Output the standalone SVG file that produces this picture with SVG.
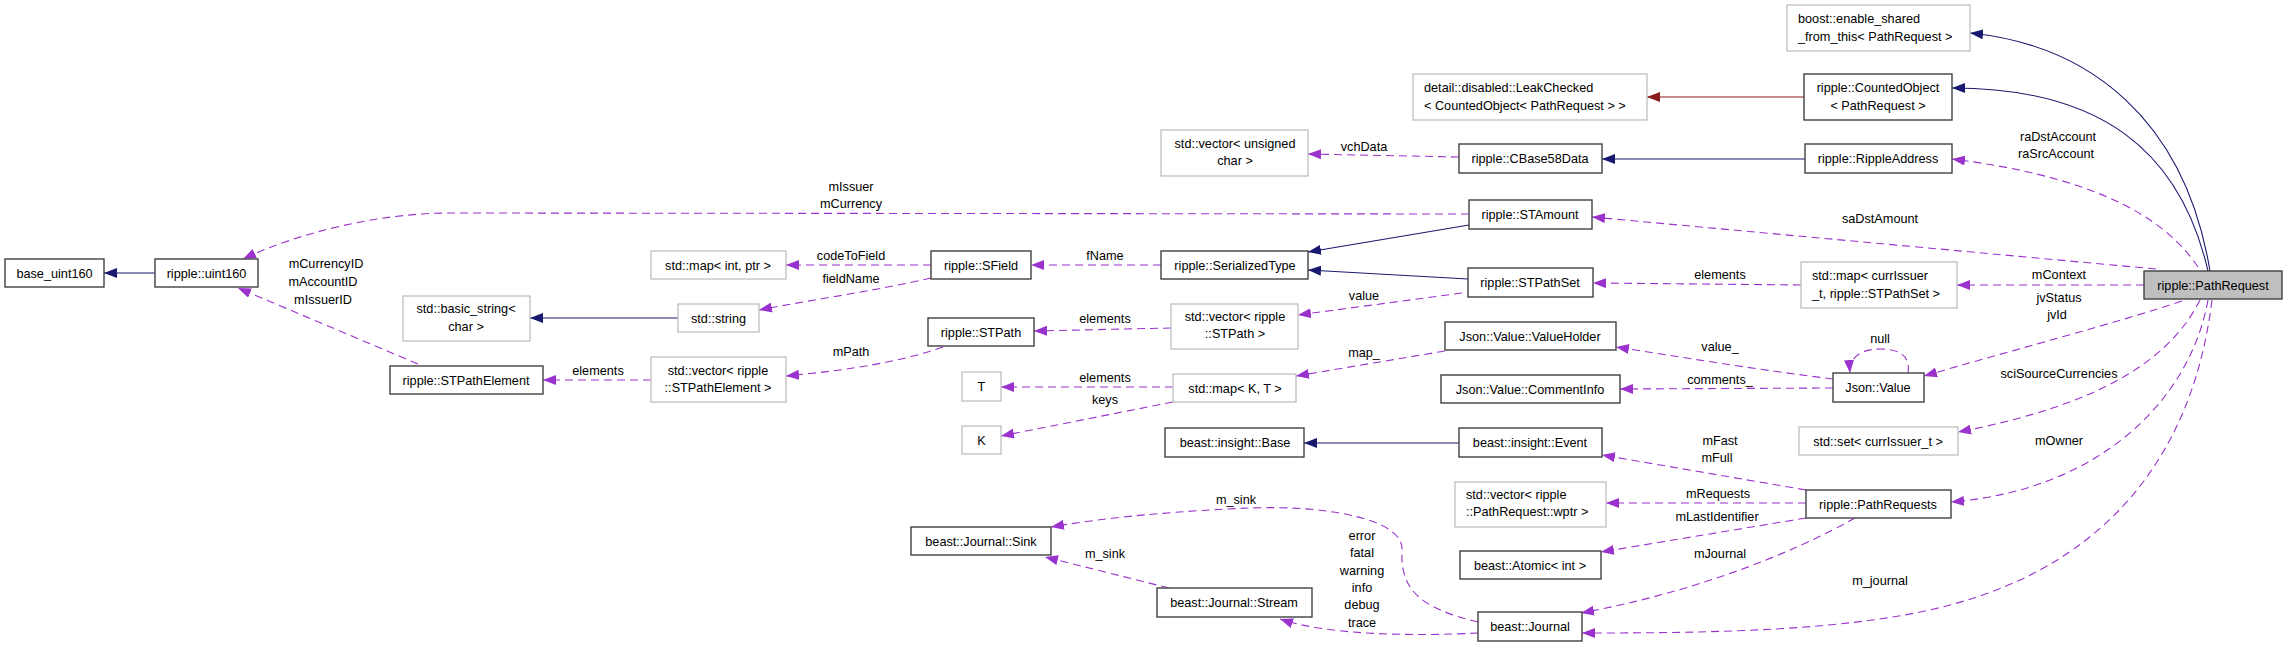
<svg xmlns="http://www.w3.org/2000/svg" width="2288" height="647" viewBox="0 0 2288 647">
<defs>
<style>
text{font-family:"Liberation Sans",Arial,sans-serif;font-size:12.7px;fill:#000}
.c{text-anchor:middle}
.n rect{fill:#fff;stroke:#404040;stroke-width:1.4}
.u rect{fill:#fff;stroke:#bfbfbf;stroke-width:1.3}
.e{fill:none;stroke-width:1.1}
.inh{stroke:#191970}
.red{stroke:#8b1a1a}
.use{stroke:#9a32cd;stroke-dasharray:8,5}
</style>
<marker id="aN" viewBox="0 0 13 10" refX="13" refY="5" markerWidth="13" markerHeight="10" markerUnits="userSpaceOnUse" orient="auto"><path d="M0,0 L13,5 L0,10 z" fill="#191970"/></marker>
<marker id="aR" viewBox="0 0 13 10" refX="13" refY="5" markerWidth="13" markerHeight="10" markerUnits="userSpaceOnUse" orient="auto"><path d="M0,0 L13,5 L0,10 z" fill="#8b1a1a"/></marker>
<marker id="aP" viewBox="0 0 13 10" refX="13" refY="5" markerWidth="13" markerHeight="10" markerUnits="userSpaceOnUse" orient="auto"><path d="M0,0 L13,5 L0,10 z" fill="#9a32cd"/></marker>
</defs>
<rect width="2288" height="647" fill="#fff"/>

<g id="connectors">
<path class="e inh" marker-end="url(#aN)" d="M155,273 L104,273"/>
<path class="e inh" marker-end="url(#aN)" d="M678,318 L530,318"/>
<path class="e inh" marker-end="url(#aN)" d="M1469,225 L1308,252"/>
<path class="e inh" marker-end="url(#aN)" d="M1468,279 L1308,270"/>
<path class="e inh" marker-end="url(#aN)" d="M1805,159 L1602,159"/>
<path class="e inh" marker-end="url(#aN)" d="M1459,443 L1304,443"/>
<path class="e inh" marker-end="url(#aN)" d="M2210,271 C2185,120 2090,45 1970,33"/>
<path class="e inh" marker-end="url(#aN)" d="M2208,271 C2180,150 2100,88 1952,88"/>
<path class="e red" marker-end="url(#aR)" d="M1804,97 L1647,97"/>

<path class="e use" marker-end="url(#aP)" d="M1469,214 L450,213 C380,213 300,232 243,259"/>
<path class="e use" marker-end="url(#aP)" d="M418,364 L238,288"/>
<path class="e use" marker-end="url(#aP)" d="M931,265 L786,265"/>
<path class="e use" marker-end="url(#aP)" d="M931,278 C880,290 810,300 759,310"/>
<path class="e use" marker-end="url(#aP)" d="M1161,265 L1031,265"/>
<path class="e use" marker-end="url(#aP)" d="M1459,157 L1308,154"/>
<path class="e use" marker-end="url(#aP)" d="M1462,293 L1298,315"/>
<path class="e use" marker-end="url(#aP)" d="M1801,285 L1593,283"/>
<path class="e use" marker-end="url(#aP)" d="M1171,328 L1034,331"/>
<path class="e use" marker-end="url(#aP)" d="M943,347 C900,362 850,370 786,376"/>
<path class="e use" marker-end="url(#aP)" d="M651,380 L543,380"/>
<path class="e use" marker-end="url(#aP)" d="M1173,387 L1001,387"/>
<path class="e use" marker-end="url(#aP)" d="M1173,402 L1001,436"/>
<path class="e use" marker-end="url(#aP)" d="M1445,351 L1296,376"/>
<path class="e use" marker-end="url(#aP)" d="M1833,379 C1760,370 1680,357 1616,347"/>
<path class="e use" marker-end="url(#aP)" d="M1833,388 L1620,389"/>
<path class="e use" marker-end="url(#aP)" d="M1908,373 C1910,360 1905,349 1880,349 C1858,349 1849,360 1850,373"/>
<path class="e use" marker-end="url(#aP)" d="M2182,301 C2120,322 2020,348 1924,376"/>
<path class="e use" marker-end="url(#aP)" d="M2200,300 C2170,360 2100,405 1958,432"/>
<path class="e use" marker-end="url(#aP)" d="M2208,300 C2190,400 2100,490 1951,502"/>
<path class="e use" marker-end="url(#aP)" d="M2212,300 C2195,440 2120,560 1950,605 C1850,632 1700,633 1582,633"/>
<path class="e use" marker-end="url(#aP)" d="M2144,285 L1957,285"/>
<path class="e use" marker-end="url(#aP)" d="M2198,267 C2160,210 2080,175 1952,159"/>
<path class="e use" marker-end="url(#aP)" d="M2156,269 L1592,217"/>
<path class="e use" marker-end="url(#aP)" d="M1806,490 L1602,455"/>
<path class="e use" marker-end="url(#aP)" d="M1806,503 L1606,503"/>
<path class="e use" marker-end="url(#aP)" d="M1806,518 L1601,552"/>
<path class="e use" marker-end="url(#aP)" d="M1855,518 C1780,560 1680,595 1581,613"/>
<path class="e use" marker-end="url(#aP)" d="M1478,633 C1420,636 1330,636 1280,619"/>
<path class="e use" marker-end="url(#aP)" d="M1478,622 C1420,608 1400,590 1402,550 C1404,520 1330,505 1250,508 C1200,510 1120,515 1051,527"/>
<path class="e use" marker-end="url(#aP)" d="M1169,588 L1045,557"/>

<text class="c" x="851" y="191">mIssuer</text>
<text class="c" x="851" y="208">mCurrency</text>
<text class="c" x="326" y="268">mCurrencyID</text>
<text class="c" x="323" y="286">mAccountID</text>
<text class="c" x="323" y="304">mIssuerID</text>
<text class="c" x="851" y="260">codeToField</text>
<text class="c" x="851" y="283">fieldName</text>
<text class="c" x="1105" y="260">fName</text>
<text class="c" x="1364" y="151">vchData</text>
<text class="c" x="1720" y="279">elements</text>
<text class="c" x="2059" y="279">mContext</text>
<text class="c" x="1880" y="223">saDstAmount</text>
<text class="c" x="2058" y="141">raDstAccount</text>
<text class="c" x="2056" y="158">raSrcAccount</text>
<text class="c" x="1364" y="300">value</text>
<text class="c" x="1105" y="323">elements</text>
<text class="c" x="851" y="356">mPath</text>
<text class="c" x="598" y="375">elements</text>
<text class="c" x="1105" y="382">elements</text>
<text class="c" x="1105" y="404">keys</text>
<text class="c" x="1364" y="357">map_</text>
<text class="c" x="1720" y="351">value_</text>
<text class="c" x="1720" y="384">comments_</text>
<text class="c" x="1880" y="343">null</text>
<text class="c" x="2059" y="302">jvStatus</text>
<text class="c" x="2057" y="319">jvId</text>
<text class="c" x="2059" y="378">sciSourceCurrencies</text>
<text class="c" x="2059" y="445">mOwner</text>
<text class="c" x="1720" y="445">mFast</text>
<text class="c" x="1717" y="462">mFull</text>
<text class="c" x="1718" y="498">mRequests</text>
<text class="c" x="1717" y="521">mLastIdentifier</text>
<text class="c" x="1720" y="558">mJournal</text>
<text class="c" x="1880" y="585">m_journal</text>
<text class="c" x="1236" y="504">m_sink</text>
<text class="c" x="1105" y="558">m_sink</text>
<text class="c" x="1362" y="540">error</text>
<text class="c" x="1362" y="557">fatal</text>
<text class="c" x="1362" y="575">warning</text>
<text class="c" x="1362" y="592">info</text>
<text class="c" x="1362" y="609">debug</text>
<text class="c" x="1362" y="627">trace</text>
</g>

<g id="base_uint160" class="n"><rect x="5" y="259" width="99" height="28"/><text class="c" x="54.5" y="277.5">base_uint160</text></g>
<g id="uint160" class="n"><rect x="155" y="259" width="103" height="28"/><text class="c" x="206.5" y="277.5">ripple::uint160</text></g>
<g id="basic_string" class="u"><rect x="403" y="296" width="127" height="45"/><text class="c" x="466" y="313">std::basic_string&lt;</text><text class="c" x="466" y="331">char &gt;</text></g>
<g id="STPathElement" class="n"><rect x="390" y="366" width="153" height="28"/><text class="c" x="466" y="384.5">ripple::STPathElement</text></g>
<g id="map_int_ptr" class="u"><rect x="651" y="251" width="135" height="28"/><text class="c" x="718" y="269.5">std::map&lt; int, ptr &gt;</text></g>
<g id="std_string" class="u"><rect x="678" y="304" width="81" height="28"/><text class="c" x="718.5" y="322.5">std::string</text></g>
<g id="vector_STPathElement" class="u"><rect x="651" y="357" width="135" height="45"/><text class="c" x="718" y="375">std::vector&lt; ripple</text><text class="c" x="718" y="392">::STPathElement &gt;</text></g>
<g id="SField" class="n"><rect x="931" y="251" width="100" height="28"/><text class="c" x="981" y="269.5">ripple::SField</text></g>
<g id="STPath" class="n"><rect x="928" y="318" width="106" height="28"/><text class="c" x="981" y="336.5">ripple::STPath</text></g>
<g id="T" class="u"><rect x="962" y="372" width="39" height="29"/><text class="c" x="981.5" y="391">T</text></g>
<g id="K" class="u"><rect x="962" y="426" width="39" height="28"/><text class="c" x="981.5" y="444.5">K</text></g>
<g id="Sink" class="n"><rect x="911" y="527" width="140" height="28"/><text class="c" x="981" y="545.5">beast::Journal::Sink</text></g>
<g id="vector_uchar" class="u"><rect x="1161" y="130" width="147" height="46"/><text class="c" x="1235" y="148">std::vector&lt; unsigned</text><text class="c" x="1235" y="165">char &gt;</text></g>
<g id="SerializedType" class="n"><rect x="1161" y="251" width="147" height="28"/><text class="c" x="1235" y="269.5">ripple::SerializedType</text></g>
<g id="vector_STPath" class="u"><rect x="1171" y="304" width="127" height="45"/><text class="c" x="1235" y="321">std::vector&lt; ripple</text><text class="c" x="1235" y="338">::STPath &gt;</text></g>
<g id="map_K_T" class="u"><rect x="1173" y="374" width="123" height="28"/><text class="c" x="1235" y="392.5">std::map&lt; K, T &gt;</text></g>
<g id="insight_Base" class="n"><rect x="1165" y="428" width="139" height="29"/><text class="c" x="1235" y="447">beast::insight::Base</text></g>
<g id="Stream" class="n"><rect x="1157" y="588" width="155" height="29"/><text class="c" x="1234" y="607">beast::Journal::Stream</text></g>
<g id="LeakChecked" class="u"><rect x="1413" y="74" width="234" height="46"/><text x="1424" y="91.5">detail::disabled::LeakChecked</text><text x="1424" y="109.5">&lt; CountedObject&lt; PathRequest &gt; &gt;</text></g>
<g id="CBase58Data" class="n"><rect x="1459" y="144" width="143" height="29"/><text class="c" x="1530" y="163">ripple::CBase58Data</text></g>
<g id="STAmount" class="n"><rect x="1469" y="200" width="123" height="29"/><text class="c" x="1530" y="219">ripple::STAmount</text></g>
<g id="STPathSet" class="n"><rect x="1468" y="268" width="125" height="29"/><text class="c" x="1530" y="287">ripple::STPathSet</text></g>
<g id="ValueHolder" class="n"><rect x="1445" y="322" width="171" height="28"/><text class="c" x="1530" y="340.5">Json::Value::ValueHolder</text></g>
<g id="CommentInfo" class="n"><rect x="1441" y="375" width="179" height="28"/><text class="c" x="1530" y="393.5">Json::Value::CommentInfo</text></g>
<g id="insight_Event" class="n"><rect x="1459" y="428" width="143" height="29"/><text class="c" x="1530" y="447">beast::insight::Event</text></g>
<g id="vector_wptr" class="u"><rect x="1455" y="482" width="151" height="45"/><text x="1466" y="498.5">std::vector&lt; ripple</text><text x="1466" y="516">::PathRequest::wptr &gt;</text></g>
<g id="Atomic" class="n"><rect x="1460" y="551" width="141" height="28"/><text class="c" x="1530" y="569.5">beast::Atomic&lt; int &gt;</text></g>
<g id="Journal" class="n"><rect x="1478" y="612" width="104" height="29"/><text class="c" x="1530" y="631">beast::Journal</text></g>
<g id="enable_shared" class="u"><rect x="1787" y="5" width="183" height="46"/><text x="1798" y="22.5">boost::enable_shared</text><text x="1798" y="40.5">_from_this&lt; PathRequest &gt;</text></g>
<g id="CountedObject" class="n"><rect x="1804" y="74" width="148" height="46"/><text class="c" x="1878" y="91.5">ripple::CountedObject</text><text class="c" x="1878" y="109.5">&lt; PathRequest &gt;</text></g>
<g id="RippleAddress" class="n"><rect x="1805" y="144" width="147" height="29"/><text class="c" x="1878" y="163">ripple::RippleAddress</text></g>
<g id="map_currIssuer" class="u"><rect x="1801" y="262" width="156" height="46"/><text x="1812" y="280">std::map&lt; currIssuer</text><text x="1812" y="297.5">_t, ripple::STPathSet &gt;</text></g>
<g id="Json_Value" class="n"><rect x="1833" y="373" width="91" height="29"/><text class="c" x="1878" y="392">Json::Value</text></g>
<g id="set_currIssuer" class="u"><rect x="1799" y="427" width="159" height="28"/><text class="c" x="1878" y="445.5">std::set&lt; currIssuer_t &gt;</text></g>
<g id="PathRequests" class="n"><rect x="1806" y="490" width="145" height="28"/><text class="c" x="1878" y="508.5">ripple::PathRequests</text></g>
<g id="PathRequest" class="n"><rect x="2144" y="271" width="138" height="28" style="fill:#bfbfbf"/><text class="c" x="2213" y="289.5">ripple::PathRequest</text></g>
</svg>
